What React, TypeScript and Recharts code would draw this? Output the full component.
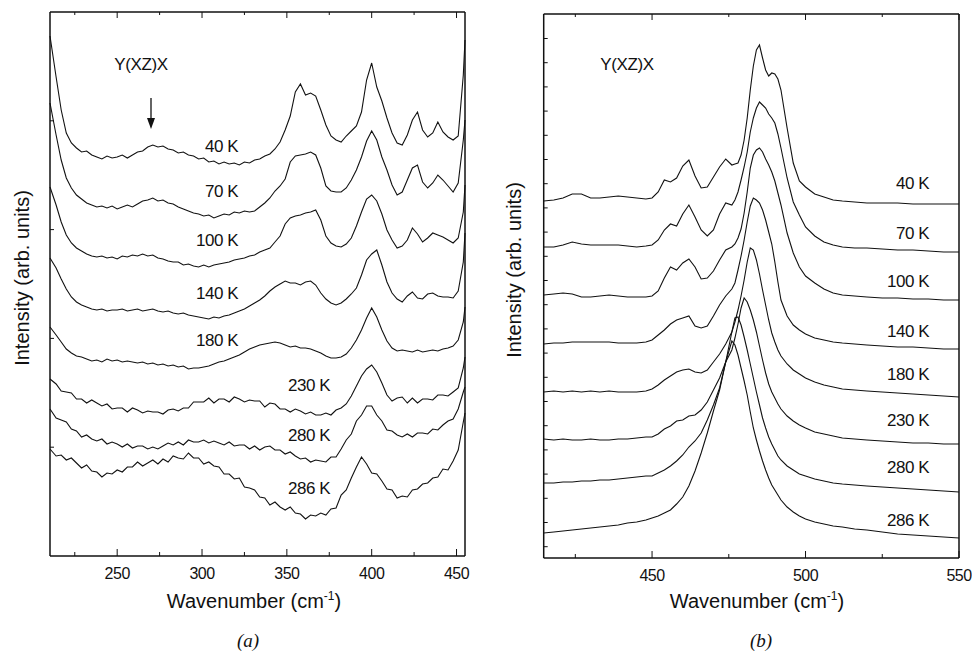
import { Line, LineChart, XAxis, YAxis } from 'recharts';

// (a) low-frequency Raman spectra, Y(XZ)X — wavenumber grid (cm-1)
const waveA = [
  210.4, 214, 217, 220, 223, 226, 229, 232, 235, 238,
  241, 244, 247, 250, 253, 256, 259, 262, 265, 268,
  271, 274, 277, 280, 283, 286, 289, 292, 295, 298,
  301, 304, 307, 310, 313, 316, 319, 322, 325, 328,
  331, 334, 337, 340, 343, 346, 349, 352, 355, 358,
  361, 364, 367, 370, 373, 376, 379, 382, 385, 388,
  391, 394, 397, 400, 403, 406, 409, 412, 415, 418,
  421, 424, 427, 430, 433, 436, 439, 442, 445, 448,
  451, 454, 455,
];

// intensities (arb. units, curves already offset)
const a40 = [
  520, 479, 446, 423, 413, 408, 404, 405, 401, 399,
  397, 400, 398, 399, 401, 398, 401, 404, 405, 409,
  411, 409, 410, 407, 406, 403, 404, 401, 400, 397,
  398, 394, 395, 392, 394, 392, 393, 391, 394, 393,
  396, 397, 400, 402, 407, 414, 426, 440, 464, 472,
  461, 463, 460, 446, 431, 420, 416, 414, 420, 425,
  430, 444, 476, 493, 469, 455, 438, 423, 413, 411,
  421, 436, 444, 426, 419, 423, 434, 424, 419, 416,
  420, 481, 516,
];
const a70 = [
  453, 421, 396, 378, 368, 361, 357, 353, 351, 349,
  350, 348, 350, 347, 349, 351, 349, 352, 355, 356,
  358, 355, 356, 353, 352, 349, 347, 345, 343, 342,
  340, 341, 338, 340, 342, 341, 344, 343, 345, 344,
  345, 349, 353, 358, 365, 370, 377, 394, 400, 401,
  402, 404, 401, 388, 370, 365, 364, 364, 368, 376,
  386, 399, 415, 425, 416, 399, 386, 371, 361, 364,
  376, 388, 391, 374, 368, 373, 381, 376, 370, 364,
  373, 416, 436,
];
const a100 = [
  369, 351, 334, 321, 313, 308, 305, 302, 300, 299,
  300, 298, 299, 297, 300, 299, 301, 300, 302, 300,
  301, 298, 297, 295, 294, 294, 291, 292, 290, 289,
  291, 289, 291, 292, 293, 294, 296, 297, 298, 300,
  301, 304, 306, 308, 314, 320, 332, 338, 340, 341,
  343, 344, 346, 336, 320, 313, 310, 309, 312, 318,
  330, 344, 357, 361, 355, 342, 326, 316, 308, 310,
  316, 328, 322, 314, 318, 323, 321, 319, 316, 313,
  318, 344, 371,
];
const a140 = [
  298, 288, 277, 267, 259, 254, 251, 249, 247, 246,
  247, 245, 246, 246, 247, 245, 246, 247, 245, 246,
  247, 245, 244, 245, 243, 242, 243, 241, 240, 239,
  238, 237, 239, 238, 240, 241, 243, 245, 247, 250,
  253, 256, 260, 265, 269, 272, 275, 273, 273, 271,
  274, 275, 271, 263, 257, 253, 251, 253, 257, 262,
  268, 281, 296, 302, 306, 291, 274, 263, 257, 254,
  260, 264, 258, 257, 262, 263, 260, 259, 259, 258,
  265, 294, 323,
];
const a180 = [
  229, 221, 214, 207, 203, 200, 199, 197, 195, 196,
  194, 197, 195, 196, 194, 195, 194, 193, 194, 192,
  193, 191, 192, 190, 191, 189, 190, 187, 188, 188,
  189, 190, 192, 194, 195, 197, 199, 201, 204, 207,
  209, 211, 212, 213, 214, 213, 211, 209, 210, 208,
  208, 207, 205, 203, 200, 198, 198, 199, 202, 208,
  216, 226, 238, 248, 239, 226, 215, 208, 205, 206,
  205, 204, 206, 204, 205, 206, 205, 207, 208, 210,
  216, 234, 249,
];
const a230 = [
  177, 172, 165, 164, 163, 157, 157, 153, 156, 153,
  150, 152, 147, 148, 148, 144, 148, 146, 143, 145,
  144, 144, 142, 146, 147, 145, 148, 148, 154, 154,
  154, 158, 153, 157, 157, 154, 159, 157, 154, 156,
  155, 155, 149, 153, 152, 147, 147, 144, 147, 145,
  142, 144, 141, 141, 143, 141, 146, 148, 152, 160,
  170, 180, 187, 191, 184, 173, 161, 155, 158, 159,
  153, 158, 153, 157, 157, 156, 161, 161, 160, 164,
  168, 188, 199,
];
const a280 = [
  147, 138, 136, 134, 127, 125, 119, 121, 117, 115,
  117, 112, 114, 112, 109, 112, 108, 110, 110, 107,
  109, 107, 110, 113, 111, 114, 111, 116, 114, 114,
  116, 113, 115, 113, 111, 114, 110, 111, 111, 107,
  110, 106, 109, 110, 106, 106, 102, 104, 100, 97,
  98, 94, 96, 95, 94, 99, 99, 107, 116, 122,
  135, 141, 150, 150, 141, 135, 126, 125, 121, 119,
  122, 119, 123, 123, 122, 127, 126, 131, 135, 137,
  147, 164, 169,
];
const a286 = [
  107, 100, 101, 96, 98, 93, 88, 91, 85, 84,
  79, 83, 82, 86, 84, 89, 89, 94, 90, 93,
  96, 92, 97, 94, 100, 98, 97, 103, 98, 98,
  92, 94, 90, 89, 82, 82, 77, 78, 69, 68,
  66, 59, 58, 51, 54, 49, 46, 49, 43, 42,
  37, 41, 40, 43, 41, 47, 48, 61, 66, 78,
  89, 99, 92, 83, 82, 75, 67, 66, 58, 60,
  59, 66, 67, 72, 73, 78, 79, 87, 86, 95,
  106, 134, 143,
];

// (b) A1(TO) region, Y(XZ)X
const waveB = [
  414.7, 418, 421, 424, 427, 430, 433, 436, 439, 442, 445, 448,
  450, 452, 454, 456, 458, 460, 462, 464, 466, 468, 470, 472, 474, 476,
  477, 478, 479, 480, 481, 482, 483, 484, 485, 486, 487, 488, 489, 490, 491, 492,
  494, 496, 498, 500,
  503, 506, 509, 512,
  516, 520,
  525, 530, 535, 540, 545, 550,
];
const b40 = [
  357, 358, 360, 364, 364, 360, 360, 361, 362, 361, 360, 359,
  360, 366, 378, 376, 380, 392, 398, 382, 370, 371, 381, 391, 399, 393,
  394, 395, 403, 418, 440, 468, 492, 508, 513, 500, 488, 482, 485, 484, 479, 468,
  430, 395, 377, 371,
  364, 361, 358, 357,
  356, 355,
  355, 355, 354, 354, 354, 354,
];
const b70 = [
  311, 311, 313, 316, 314, 313, 313, 313, 313, 312, 311, 312,
  313, 318, 328, 334, 332, 344, 353, 341, 328, 322, 328, 344, 355, 353,
  358, 366, 378, 391, 406, 426, 440, 450, 456, 453, 450, 444, 440, 435, 424, 410,
  380, 356, 343, 331,
  322, 316, 313, 311,
  310, 310,
  309, 308, 308, 307, 306, 306,
];
const b100 = [
  263, 264, 265, 264, 261, 261, 262, 263, 262, 261, 261, 261,
  262, 267, 280, 291, 288, 295, 299, 291, 279, 280, 287, 298, 308, 311,
  314, 320, 329, 345, 366, 390, 403, 408, 410, 406, 399, 393, 386, 377, 365, 353,
  325, 305, 291, 282,
  275, 269, 265, 263,
  262, 261,
  260, 260, 259, 259, 258, 258,
];
const b140 = [
  214, 215, 215, 216, 216, 216, 216, 216, 215, 215, 215, 216,
  218, 223, 228, 234, 238, 240, 242, 232, 230, 232, 242, 253, 262, 269,
  275, 288, 302, 318, 336, 352, 360, 358, 355, 348, 338, 326, 314, 296, 276, 258,
  242, 233, 228, 224,
  220, 218, 216, 215,
  214, 213,
  212, 211, 211, 210, 209, 209,
];
const b180 = [
  166, 167, 166, 167, 166, 167, 166, 167, 166, 166, 166, 167,
  169, 173, 178, 182, 186, 188, 189, 186, 185, 188, 196, 204, 214, 226,
  236, 248, 262, 278, 296, 310, 308, 298, 284, 268, 253, 238, 225, 216, 208, 202,
  194, 188, 184, 180,
  176, 173, 171, 169,
  168, 167,
  166, 165, 164, 163, 162, 161,
];
const b230 = [
  119, 118, 119, 118, 118, 119, 118, 118, 119, 119, 120, 121,
  121, 124, 129, 132, 137, 138, 142, 143, 148, 156, 168, 180, 196, 208,
  220, 234, 250, 260, 256, 248, 238, 226, 212, 198, 185, 174, 166, 160, 154, 149,
  142, 137, 133, 130,
  126, 124, 122, 120,
  119, 118,
  117, 116, 115, 115, 114, 114,
];
const b280 = [
  75, 75, 76, 76, 77, 77, 78, 78, 79, 80, 81, 82,
  82, 85, 88, 92, 97, 103, 111, 117, 125, 138, 153, 170, 196, 226,
  240, 241, 233, 221, 208, 194, 180, 166, 153, 140, 130, 121, 114, 108, 102, 98,
  92, 88, 84, 82,
  79, 77, 75, 74,
  73, 72,
  71, 70, 69, 68, 67, 66,
];
const b286 = [
  25, 26, 27, 28, 29, 30, 31, 32, 33, 35, 36, 38,
  40, 42, 45, 48, 54, 61, 72, 87, 105, 125, 147, 168, 196, 217,
  213, 203, 190, 177, 163, 146, 130, 118, 107, 97, 88, 80, 73, 68, 63, 58,
  51, 46, 42, 39,
  36, 34, 32, 31,
  29, 28,
  26, 24, 23, 22, 21, 20,
];

const temps = ['40 K', '70 K', '100 K', '140 K', '180 K', '230 K', '280 K', '286 K'];
const keys = ['k40', 'k70', 'k100', 'k140', 'k180', 'k230', 'k280', 'k286'];

const ticksA = [225, 250, 275, 300, 325, 350, 375, 400, 425, 450];
const majorA = [250, 300, 350, 400, 450];
const ticksB = [425, 450, 475, 500, 525, 550];
const majorB = [450, 500, 550];
const yTicksA = [108.8, 217.6, 326.4, 435.2];
const yTicksB = [
  11.3, 35.5, 59.7, 83.9, 108.1, 132.3, 156.5, 180.7, 204.9, 229.1, 253.3,
  277.5, 301.7, 325.9, 350.1, 374.3, 398.5, 422.7, 446.9, 471.1, 495.3, 519.5,
];

const toRows = (wave: number[], cols: number[][]) =>
  wave.map((w, i) => {
    const row: Record<string, number> = { w };
    cols.forEach((c, j) => {
      row[keys[j]] = c[i];
    });
    return row;
  });

const rowsA = toRows(waveA, [a40, a70, a100, a140, a180, a230, a280, a286]);
const rowsB = toRows(waveB, [b40, b70, b100, b140, b180, b230, b280, b286]);

const FONT = '"Liberation Sans", Arial, sans-serif';
const INK = '#111';
const axisLine = { stroke: INK, strokeWidth: 1.5 };

const bottomTick = (major: number[]) => (props: any) => {
  const { x, y, payload } = props;
  const isMajor = major.includes(payload.value);
  return (
    <g>
      <line x1={x} x2={x} y1={y} y2={y - (isMajor ? 7 : 4)} stroke={INK} />
      {isMajor && (
        <text x={x} y={y + 22.7} textAnchor="middle" fontSize={16} fontFamily={FONT} fill={INK} letterSpacing={-0.5}>
          {payload.value}
        </text>
      )}
    </g>
  );
};

const topTick = (major: number[]) => (props: any) => {
  const { x, y, payload } = props;
  const isMajor = major.includes(payload.value);
  return <line x1={x} x2={x} y1={y} y2={y + (isMajor ? 6 : 3)} stroke={INK} />;
};

const sideTick = (dir: number) => (props: any) => {
  const { x, y } = props;
  return <line x1={x} x2={x + dir * 4} y1={y} y2={y} stroke={INK} />;
};

interface PanelProps {
  rows: Record<string, number>[];
  domain: [number, number];
  ticks: number[];
  major: number[];
  yTicks: number[];
  margin: { top: number; left: number; right: number; bottom: number };
  width: number;
}

function Panel({ rows, domain, ticks, major, yTicks, margin, width }: PanelProps) {
  return (
    <LineChart width={width} height={590} data={rows} margin={margin}>
      <XAxis
        xAxisId="bottom"
        dataKey="w"
        type="number"
        domain={domain}
        ticks={ticks}
        interval={0}
        height={30}
        tickSize={0}
        tickMargin={0}
        tickLine={false}
        axisLine={axisLine}
        tick={bottomTick(major)}
      />
      <XAxis
        xAxisId="top"
        orientation="top"
        dataKey="w"
        type="number"
        domain={domain}
        ticks={ticks}
        interval={0}
        height={1}
        tickSize={0}
        tickMargin={0}
        tickLine={false}
        axisLine={axisLine}
        tick={topTick(major)}
      />
      <YAxis
        yAxisId="left"
        type="number"
        domain={[0, 544]}
        ticks={yTicks}
        interval={0}
        width={1}
        tickSize={0}
        tickMargin={0}
        tickLine={false}
        axisLine={axisLine}
        tick={sideTick(1)}
      />
      <YAxis
        yAxisId="right"
        orientation="right"
        type="number"
        domain={[0, 544]}
        ticks={yTicks}
        interval={0}
        width={1}
        tickSize={0}
        tickMargin={0}
        tickLine={false}
        axisLine={axisLine}
        tick={sideTick(-1)}
      />
      {keys.map((k) => (
        <Line
          key={k}
          xAxisId="bottom"
          yAxisId="left"
          type="linear"
          dataKey={k}
          stroke={INK}
          strokeWidth={1.1}
          dot={false}
          activeDot={false}
          isAnimationActive={false}
        />
      ))}
    </LineChart>
  );
}

// label anchors (page px)
const tagYA = [151.5, 197, 246, 299, 346, 391, 441, 494];
const tagXA = [238, 238, 238, 238, 238, 330, 330, 330];
const tagYB = [189, 239, 287, 337, 380, 426, 473, 526];

export default function App() {
  const txt = { fontFamily: FONT, fill: INK } as const;
  return (
    <div style={{ position: 'absolute', left: 0, top: 0, width: 972, height: 652, background: '#fff' }}>
      <div style={{ position: 'absolute', left: 0, top: 0 }}>
        <Panel
          rows={rowsA}
          domain={[210.4, 455]}
          ticks={ticksA}
          major={majorA}
          yTicks={yTicksA}
          width={480}
          margin={{ top: 11, left: 49, right: 14, bottom: 4 }}
        />
      </div>
      <div style={{ position: 'absolute', left: 490, top: 0 }}>
        <Panel
          rows={rowsB}
          domain={[414.7, 550]}
          ticks={ticksB}
          major={majorB}
          yTicks={yTicksB}
          width={482}
          margin={{ top: 13, left: 52.7, right: 12, bottom: 2 }}
        />
      </div>
      <svg width={972} height={652} style={{ position: 'absolute', left: 0, top: 0, pointerEvents: 'none' }}>
        <text x={141} y={69.5} textAnchor="middle" fontSize={17} letterSpacing={-0.4} {...txt}>
          Y(XZ)X
        </text>
        <line x1={151} x2={151} y1={98} y2={120} stroke={INK} strokeWidth={1.3} />
        <polygon points="147,118 155,118 151,129" fill={INK} />
        <text x={627} y={69.5} textAnchor="middle" fontSize={17} letterSpacing={-0.4} {...txt}>
          Y(XZ)X
        </text>

        {temps.map((t, i) => (
          <text key={'a' + t} x={tagXA[i]} y={tagYA[i]} textAnchor="end" fontSize={17} letterSpacing={-0.5} {...txt}>
            {t}
          </text>
        ))}
        {temps.map((t, i) => (
          <text key={'b' + t} x={929} y={tagYB[i]} textAnchor="end" fontSize={17} letterSpacing={-0.5} {...txt}>
            {t}
          </text>
        ))}

        <text x={254} y={608} textAnchor="middle" fontSize={20} {...txt}>
          Wavenumber (cm
          <tspan dy={-8} fontSize={12}>-1</tspan>
          <tspan dy={8}>)</tspan>
        </text>
        <text x={757} y={608} textAnchor="middle" fontSize={20} {...txt}>
          Wavenumber (cm
          <tspan dy={-8} fontSize={12}>-1</tspan>
          <tspan dy={8}>)</tspan>
        </text>

        <text x={22} y={278} transform="rotate(-90 22 278)" textAnchor="middle" dominantBaseline="central" fontSize={20} {...txt}>
          Intensity (arb. units)
        </text>
        <text x={514} y={270} transform="rotate(-90 514 270)" textAnchor="middle" dominantBaseline="central" fontSize={20} {...txt}>
          Intensity (arb. units)
        </text>

        <text x={248} y={647} textAnchor="middle" fontSize={19} fontStyle="italic" fontFamily='"Liberation Serif", serif' fill={INK}>
          (a)
        </text>
        <text x={761} y={647} textAnchor="middle" fontSize={19} fontStyle="italic" fontFamily='"Liberation Serif", serif' fill={INK}>
          (b)
        </text>
      </svg>
    </div>
  );
}
